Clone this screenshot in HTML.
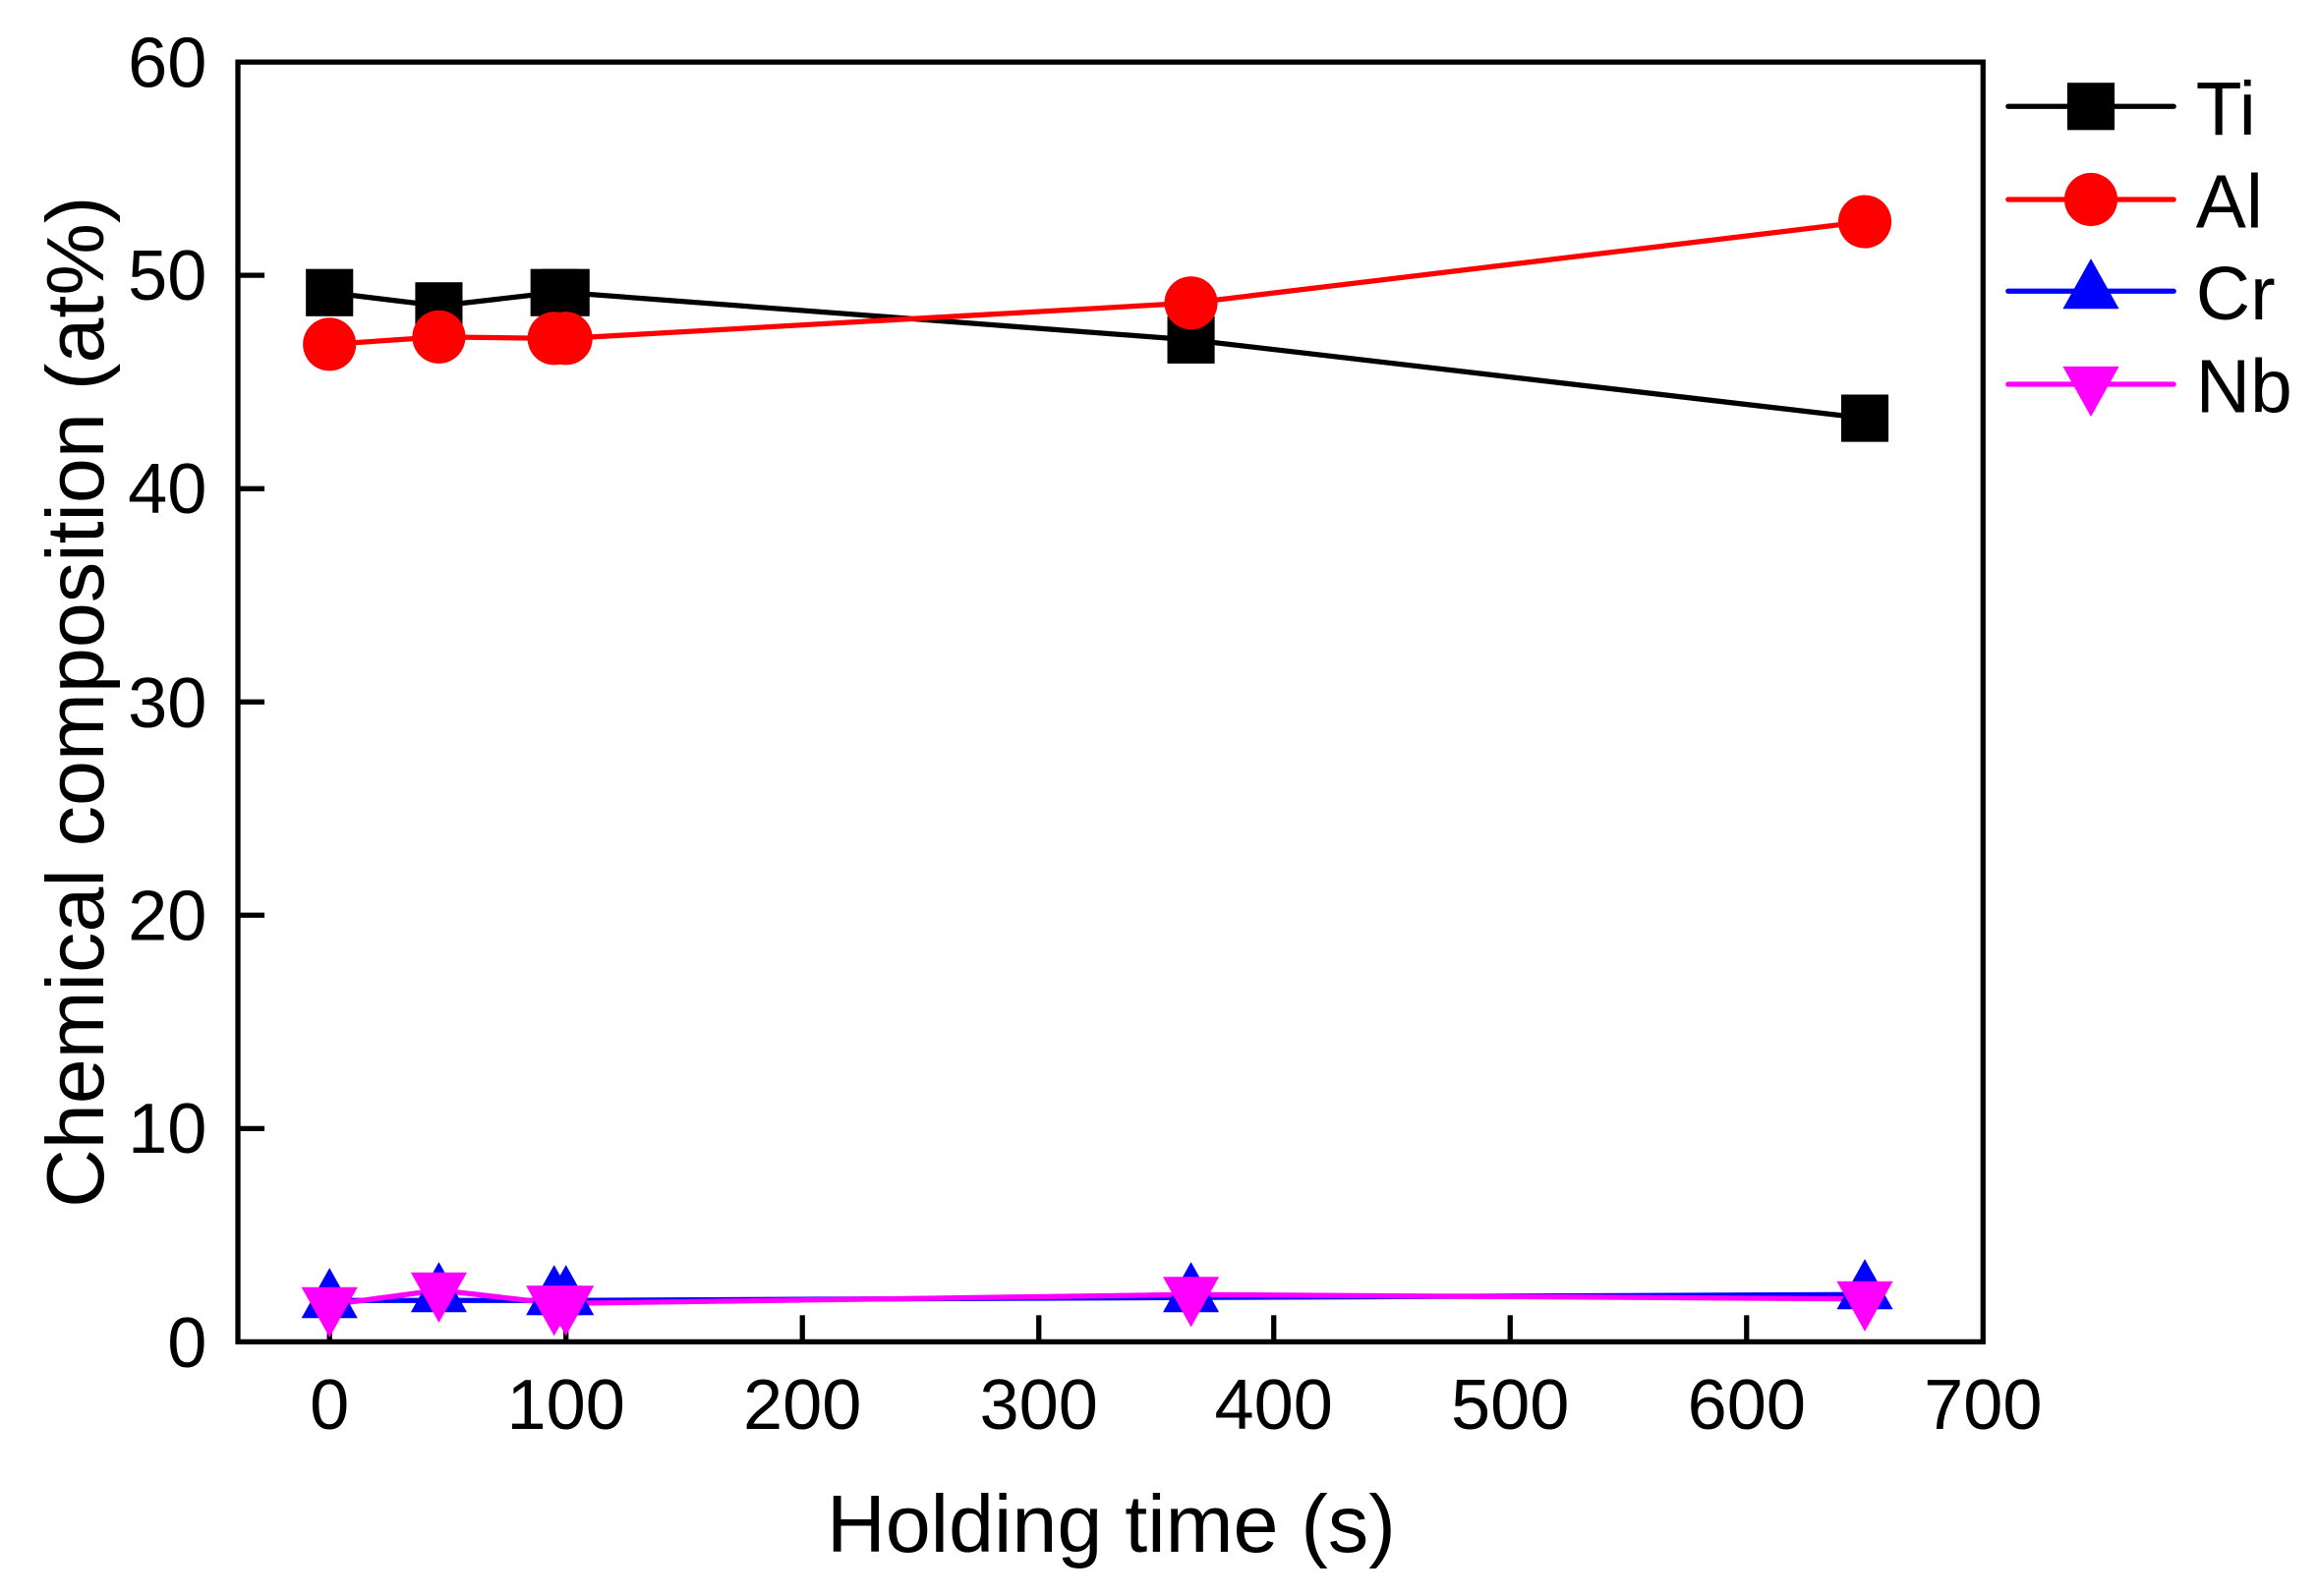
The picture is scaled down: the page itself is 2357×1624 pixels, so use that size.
<!DOCTYPE html>
<html><head><meta charset="utf-8"><style>
html,body{margin:0;padding:0;background:#fff;}
svg{display:block;}
text{font-family:"Liberation Sans",Arial,sans-serif;fill:#000;}
</style></head><body>
<svg width="2357" height="1624" viewBox="0 0 1568 1080" preserveAspectRatio="none" xmlns="http://www.w3.org/2000/svg">
<defs>
<rect id="sq" x="-16" y="-16" width="32" height="32" fill="#000"/>
<circle id="ci" r="18" fill="#f00"/>
<polygon id="up" points="0,-22 19,12 -19,12" fill="#00f"/>
<polygon id="dn" points="0,22 19,-12 -19,-12" fill="#f0f"/>
</defs>
<rect x="161" y="42" width="1181" height="866" fill="none" stroke="#000" stroke-width="3.5"/>
<g stroke="#000" stroke-width="3.5">
<line x1="161" y1="186.3" x2="179" y2="186.3"/>
<line x1="161" y1="330.7" x2="179" y2="330.7"/>
<line x1="161" y1="475" x2="179" y2="475"/>
<line x1="161" y1="619.3" x2="179" y2="619.3"/>
<line x1="161" y1="763.7" x2="179" y2="763.7"/>
<line x1="223" y1="908" x2="223" y2="890"/>
<line x1="383" y1="908" x2="383" y2="890"/>
<line x1="543" y1="908" x2="543" y2="890"/>
<line x1="703" y1="908" x2="703" y2="890"/>
<line x1="862" y1="908" x2="862" y2="890"/>
<line x1="1022" y1="908" x2="1022" y2="890"/>
<line x1="1182" y1="908" x2="1182" y2="890"/>
</g>
<g font-size="48" text-anchor="end">
<text x="140" y="59">60</text>
<text x="140" y="203">50</text>
<text x="140" y="347">40</text>
<text x="140" y="492">30</text>
<text x="140" y="636">20</text>
<text x="140" y="780">10</text>
<text x="140" y="925">0</text>
</g>
<g font-size="48" text-anchor="middle">
<text x="223" y="967">0</text>
<text x="383" y="967">100</text>
<text x="543" y="967">200</text>
<text x="703" y="967">300</text>
<text x="862" y="967">400</text>
<text x="1022" y="967">500</text>
<text x="1182" y="967">600</text>
<text x="1342" y="967">700</text>
</g>
<text x="752" y="1050" font-size="55" text-anchor="middle">Holding time (s)</text>
<text transform="translate(70,475) rotate(-90)" font-size="55" text-anchor="middle">Chemical composition (at%)</text>

<polyline fill="none" stroke="#000" stroke-width="3.5" points="223,198 297,207 375,198 383,198 806,230 1262,283"/>
<polyline fill="none" stroke="#f00" stroke-width="3.5" points="223,233 297,228 375,229 383,229 806,205 1262,150"/>
<polyline fill="none" stroke="#00f" stroke-width="3.5" points="223,880 297,880 375,880 383,880 806,878 1262,876"/>
<polyline fill="none" stroke="#f0f" stroke-width="3.5" points="223,883 297,873 375,882 383,882 806,876 1262,879"/>

<g>
<use href="#sq" x="223" y="198"/><use href="#sq" x="297" y="207"/><use href="#sq" x="375" y="198"/><use href="#sq" x="383" y="198"/><use href="#sq" x="806" y="230"/><use href="#sq" x="1262" y="283"/>
<use href="#ci" x="223" y="233"/><use href="#ci" x="297" y="228"/><use href="#ci" x="375" y="229"/><use href="#ci" x="383" y="229"/><use href="#ci" x="806" y="205"/><use href="#ci" x="1262" y="150"/>
<use href="#up" x="223" y="880"/><use href="#up" x="297" y="876"/><use href="#up" x="375" y="878"/><use href="#up" x="383" y="878"/><use href="#up" x="806" y="876"/><use href="#up" x="1262" y="874"/>
<use href="#dn" x="223" y="883"/><use href="#dn" x="297" y="873"/><use href="#dn" x="375" y="882"/><use href="#dn" x="383" y="882"/><use href="#dn" x="806" y="876"/><use href="#dn" x="1262" y="879"/>
</g>

<g stroke-width="3.5" stroke-linecap="round">
<line x1="1359" y1="72" x2="1471" y2="72" stroke="#000"/>
<line x1="1359" y1="135" x2="1471" y2="135" stroke="#f00"/>
<line x1="1359" y1="197" x2="1471" y2="197" stroke="#00f"/>
<line x1="1359" y1="260" x2="1471" y2="260" stroke="#f0f"/>
</g>
<use href="#sq" x="1415" y="72"/>
<use href="#ci" x="1415" y="135"/>
<use href="#up" x="1415" y="197"/>
<use href="#dn" x="1415" y="260"/>
<g font-size="51">
<text x="1486" y="91">Ti</text>
<text x="1486" y="154">Al</text>
<text x="1486" y="216">Cr</text>
<text x="1486" y="279">Nb</text>
</g>
</svg>
</body></html>
